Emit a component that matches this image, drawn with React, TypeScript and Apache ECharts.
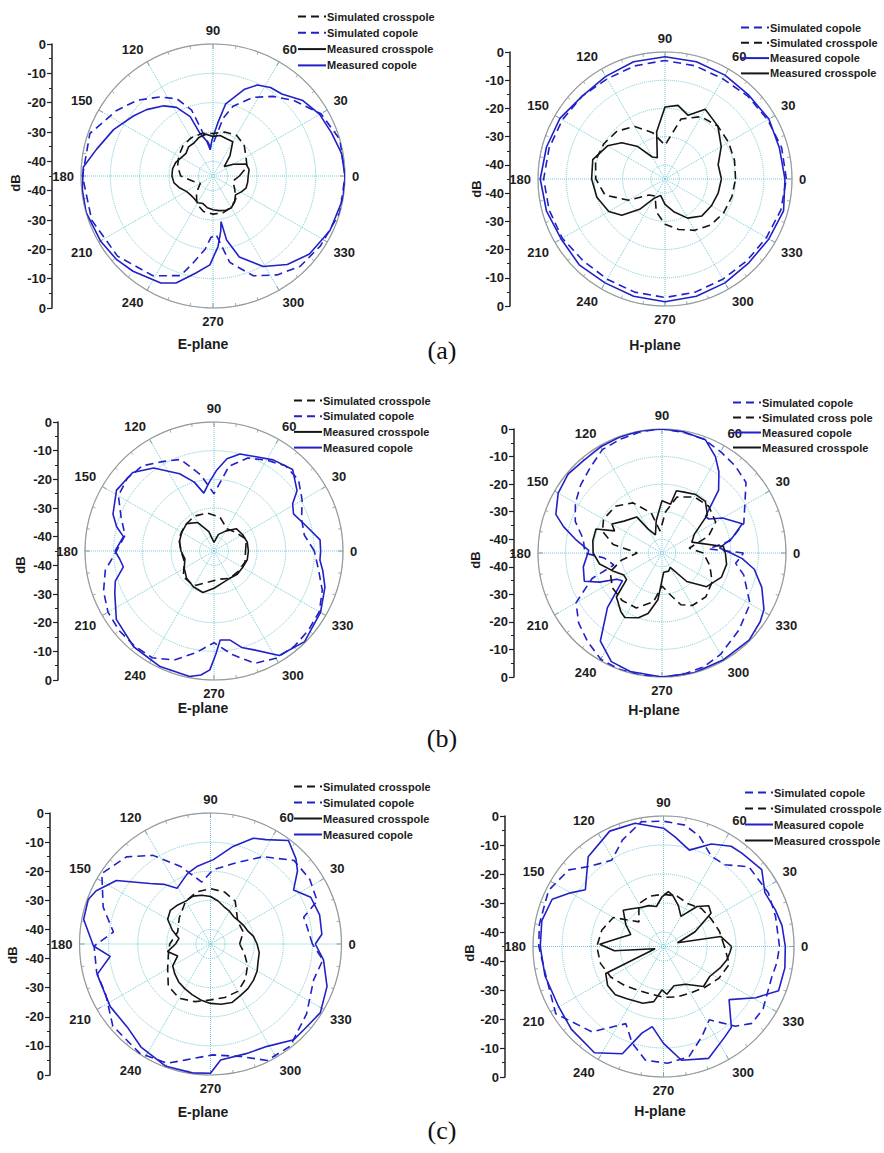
import React, { useEffect, useRef } from 'react';
import * as echarts from 'echarts';

// ---------- sample angle lists (degrees) ----------
const DEG10 = [0, 10, 20, 30, 40, 50, 60, 70, 80, 90, 100, 110, 120, 130, 140, 150, 160, 170, 180, 190, 200, 210, 220, 230, 240, 250, 260, 270, 280, 290, 300, 310, 320, 330, 340, 350];
const DEG15 = [0, 15, 30, 45, 60, 75, 90, 105, 120, 135, 150, 165, 180, 195, 210, 225, 240, 255, 270, 285, 300, 315, 330, 345];
const DEG20 = [0, 20, 40, 60, 80, 100, 120, 140, 160, 180, 200, 220, 240, 260, 280, 300, 320, 340];

// ---------- radial axis ----------
const R_MIN = -45;
const R_MAX = 0;
const ANGLE_TICKS = [0, 30, 60, 90, 120, 150, 180, 210, 240, 270, 300, 330];

// ---------- (a) E-plane ----------
const aE_simCross = [-36, -33, -32, -30, -29, -29.5, -30.5, -30, -30, -30.5, -31.5, -32.5, -34, -38, -40, -37, -34, -32.5, -32, -32, -32.6, -34, -36.5, -38];
const aE_simCoAng = [0, 16, 30, 43, 53, 63, 74, 80, 88, 95, 103, 108, 115, 124, 135, 146, 161, 180, 200, 220, 239, 252, 257, 264, 268, 273, 281, 292, 303, 314, 327, 344];
const aE_simCo = [0, 0, -2.5, -7.3, -11, -14.9, -20.3, -25, -33, -35, -30, -21.4, -16, -12.5, -8.5, -5.2, -0.6, -0.5, -1, -2.5, -5.3, -9.3, -14.5, -20, -24, -25, -15, -8.3, -4.8, -2.2, -1.3, 0];
const aE_measCross = [-33, -32.5, -33, -37, -40, -36, -31.5, -31.5, -31, -31.5, -30.5, -31, -32, -32, -33, -32.5, -31.5, -31, -31, -31.5, -33, -34.5, -35, -35, -34.5, -35, -34, -33.5, -33, -32.5, -32.5, -33.5, -35, -34, -33, -33];
const aE_measCoAng = [0, 10, 20, 30, 40, 50, 57, 64, 70, 80, 85, 92, 96, 100, 107, 111, 118, 125, 135, 143, 155, 167, 176, 186, 196, 210, 221, 230, 244, 251, 260, 268, 274, 278, 280, 282, 288, 299, 310, 321, 335, 350];
const aE_measCo = [0, -0.5, -2, -3, -5, -8.5, -9, -10.5, -13.5, -20, -27, -33, -36, -33, -29.8, -23.3, -18.5, -15.8, -13, -11, -7.6, -4.3, -0.7, -0.2, 0, -0.7, -1.5, -2.6, -4.4, -6.4, -11.4, -14.7, -20.8, -26, -29.2, -22.7, -16, -9.7, -5.6, -2.7, -1, 0];

// ---------- (a) H-plane ----------
const aH_simCo = [-2, -2.2, -3, -3.5, -4, -3.5, -3, -3.5, -4, -3.5, -3, -2.5, -2, -2.5, -3, -4, -4, -3.5, -3, -3.5, -4, -4, -3.5, -2.5];
const aH_simCross = [-20, -19.5, -19, -18.5, -19.5, -23, -33, -28, -23.5, -21, -20, -19.5, -20.5, -23, -30, -37, -38, -33, -29, -26.5, -24, -22, -21, -20.5];
const aH_measCo = [-2.5, -3, -2.5, -3, -2.5, -2, -1.7, -2, -3, -3.5, -2, -1.5, -0.8, -1.5, -2.5, -2, -2.5, -2, -1.5, -2, -2.5, -3, -2.5, -1.5];
const aH_measCrossAng = [0, 15, 30, 45, 60, 70, 80, 90, 100, 110, 120, 130, 140, 150, 165, 180, 195, 210, 220, 230, 240, 255, 270, 285, 300, 315, 330, 345];
const aH_measCross = [-25, -25.5, -22, -18.5, -16.5, -21, -18.5, -19.5, -28, -37, -36, -30, -25, -21.5, -18.5, -19, -20, -22, -25, -31, -37, -39, -36, -33, -29, -26.5, -26, -25.5];

// ---------- (b) E-plane ----------
const bE_simCross = [-34, -33, -35, -36, -33, -31.5, -31, -31.5, -32, -33.5, -34, -31, -31, -34, -35, -34, -34, -33.5];
const bE_simCo = [-10, -13, -12.5, -9.5, -6.5, -6.2, -8.4, -10.5, -15, -25, -18, -11, -9, -6.2, -5.5, -6.5, -10.5, -13.5, -11, -6.5, -4, -2.3, -1.8, -1.8, -2, -4.5, -9, -13, -8.3, -3.3, -1.8, -1.5, -2, -2.6, -4.8, -8];
const bE_measCross = [-33, -33, -33.5, -34, -37, -39, -42, -38, -33.5, -31.5, -32, -32.5, -33.5, -34.5, -33, -31.5, -30.6, -30, -32, -33.5, -34, -33.5, -33.5, -33];
const bE_measCoAng = [0, 6, 15, 25, 31, 36, 46, 57, 66, 75, 82, 88, 94, 100, 106, 114, 126, 136, 148, 160, 166, 171, 180, 185, 190, 197, 203, 215, 230, 245, 259, 264, 268, 271, 274, 280, 286, 292, 302, 315, 330, 342, 350, 355];
const bE_measCo = [-7.8, -7.8, -11.6, -14.4, -13, -9.2, -5.5, -7.1, -9, -10, -12.5, -16.7, -21, -24.5, -20, -15.5, -9.2, -5.6, -4.9, -7.5, -10, -13, -10.5, -12, -12.9, -9, -7.4, -3.4, -1.4, -0.5, -0.4, -1.5, -3.5, -9, -13.9, -13.5, -10, -7.8, -2, -0.3, -2.1, -4.3, -6.5, -7.9];

// ---------- (b) H-plane ----------
const bH_simCoAng = [0, 5, 10, 20, 30, 40, 50, 60, 70, 80, 90, 100, 110, 120, 130, 140, 150, 160, 170, 180, 185, 194, 200, 210, 220, 230, 240, 250, 260, 270, 280, 290, 300, 315, 330, 345, 352];
const bH_simCo = [-15.4, -28, -20, -13.4, -10.3, -5.2, -3.7, -2.5, -1, -0.5, 0, -0.3, -1, -1.7, -4.5, -6.5, -8.7, -11.5, -16, -17, -24, -27, -18, -9, -5.5, -3, -0.5, 0, 0, 0, -0.3, -1, -2.5, -5.5, -8.1, -14.3, -18];
const bH_simCrossAng = [0, 10, 20, 30, 45, 60, 75, 85, 95, 105, 120, 135, 150, 160, 170, 180, 190, 200, 215, 230, 245, 260, 270, 280, 290, 300, 315, 330, 345];
const bH_simCross = [-30, -35, -27, -22.5, -21, -21.5, -24, -30, -37, -30, -24, -21, -20.5, -22, -27, -36, -30, -25, -23, -22.5, -23, -27, -33, -30, -25, -23, -22.5, -24, -27];
const bH_measCoAng = [0, 5, 12, 20, 30, 36, 40, 48, 55, 61, 69, 80, 90, 100, 110, 120, 130, 140, 150, 160, 165, 171, 178, 190, 200, 205, 210, 215, 225, 235, 245, 255, 270, 285, 300, 315, 325, 331, 341, 350, 356];
const bH_measCo = [-20, -24, -19, -14, -19.6, -24, -24.4, -14.3, -9, -5, -1, -0.3, 0, 0, -0.2, -0.5, -1, -0.5, -1.5, -4, -8, -13.2, -18.4, -16, -15, -20, -26, -27.5, -17, -6, -1.5, -0.5, 0, 0, -0.3, -0.3, -1.5, -2.7, -6.7, -11, -15.8];
const bH_measCrossAng = [0, 6, 20, 30, 40, 50, 60, 70, 77, 80, 90, 100, 110, 120, 125, 140, 150, 155, 160, 170, 180, 190, 200, 210, 217, 224, 235, 240, 250, 257, 265, 275, 290, 300, 311, 323, 338, 350];
const bH_measCross = [-22, -22.6, -33.5, -31.5, -23.5, -20.5, -20.5, -21.5, -21.8, -27, -26, -33, -38, -35, -29, -27, -24, -26, -19.5, -19.5, -20, -22, -26, -29, -28.9, -22, -19, -18, -20, -22.5, -28, -38, -38, -39, -31.3, -24.7, -21.7, -21.2];

// ---------- (c) E-plane ----------
const cE_simCrossAng = [0, 20, 40, 60, 75, 90, 105, 120, 140, 160, 180, 195, 210, 225, 240, 255, 270, 285, 300, 315, 330, 345];
const cE_simCross = [-35, -33, -32.8, -28, -26.5, -26, -26.5, -28, -31, -33, -31, -30, -28, -24.5, -23.5, -24.5, -25.8, -26, -26.2, -28, -30.3, -33];
const cE_simCoAng = [0, 10, 16, 22, 33, 45, 59, 74, 88, 98, 111, 123, 134, 147, 161, 173, 181, 194, 206, 220, 237, 250, 258, 271, 285, 296, 308, 324, 341, 352];
const cE_simCo = [-10, -11.3, -11.7, -5.5, -4.3, -4.4, -10, -16.2, -19.5, -23.5, -16.5, -8.7, -3.4, -0.5, -6, -11.4, -5, -4.7, -5, -1.2, -0.3, -1.4, -4.3, -6.9, -5, -0.5, -0.5, -4.2, -7.5, -6];
const cE_measCross = [-29, -30, -31.5, -32, -32.5, -32.7, -32, -31.4, -30, -28.7, -28, -27.5, -28, -27.5, -27, -28, -31, -34, -33, -30, -33, -30, -29, -28, -27.3, -26.5, -25.5, -24.6, -24, -23.6, -24.5, -25, -25.7, -26.5, -27.6, -28];
const cE_measCoAng = [0, 5, 15, 25, 33, 40, 45, 53, 62, 68, 77, 88, 100, 108, 121, 128, 135, 146, 155, 160, 169, 181, 187, 195, 212, 225, 236, 250, 262, 270, 275, 288, 299, 311, 319, 328, 340, 352];
const cE_measCo = [-9, -6.6, -6.2, -7, -11, -6, -3.5, -0.5, -4.4, -5.8, -10.6, -16, -18, -19.5, -22.7, -19, -15.6, -6, -1.7, -0.3, -0.6, -4.8, -10.3, -4.7, -4.4, -4.6, -2.3, -0.3, -0.3, -0.6, -5, -5.4, -4.8, -1.4, -1.4, -0.5, -2.4, -5.8];

// ---------- (c) H-plane ----------
const cH_simCoAng = [0, 15, 27, 43, 53, 62, 72, 80, 90, 100, 111, 121, 133, 141, 154, 170, 180, 193, 212, 230, 244, 252, 261, 272, 283, 293, 302, 312, 319, 328, 344, 352];
const cH_simCo = [-5, -5, -4.4, -4.7, -9.7, -9.8, -5, -2.5, -1.8, -1.3, -5.6, -10.3, -7.3, -3, -0.9, -1.5, -2, -3.2, -1.2, -6.6, -15.4, -10, -5.3, -4.7, -6, -11.2, -15.2, -8, -4.6, -4.5, -6.2, -5.5];
const cH_simCross = [-24, -25, -26, -26.5, -28, -27, -27, -27, -28, -33, -25, -23, -22, -22.5, -24, -26, -27.5, -28, -27.5, -27, -26.5, -25, -23, -21.5];
const cH_measCoAng = [0, 10, 18, 28, 38, 50, 56, 65, 75, 84, 90, 103, 115, 130, 144, 150, 157, 168, 180, 194, 210, 222, 237, 249, 256, 262, 270, 279, 292, 304, 310, 321, 331, 339, 350];
const cH_measCo = [-3, -3.5, -4.4, -5.4, -2, -3, -3.3, -6, -10.6, -7, -4.2, -1.4, -1.1, -4.6, -11.7, -8, -3.3, -2.1, -2.5, -2.9, -3.3, -2.3, -1.3, -5.4, -14.2, -17.1, -11.6, -5.3, -3.4, -7.3, -8.6, -15.9, -8.6, -2.5, -2.5];
const cH_measCrossAng = [0, 10, 15, 25, 35, 42, 50, 60, 70, 80, 85, 92, 100, 110, 120, 130, 138, 150, 160, 170, 178, 185, 195, 205, 215, 225, 235, 250, 260, 268, 274, 285, 300, 315, 327, 340, 348, 355];
const cH_measCross = [-21.5, -25, -40, -33, -25, -24, -27, -33, -30, -27, -26, -28, -31, -30, -29.5, -28, -26.3, -30, -33, -29, -23, -28, -42, -23, -21.5, -21.5, -23, -24.2, -25.7, -30, -28.5, -31, -30, -25.5, -26, -24, -22.7, -22];

// ---------- names ----------
const SIM_CROSS = 'Simulated crosspole';
const SIM_CO = 'Simulated copole';
const MEAS_CROSS = 'Measured crosspole';
const MEAS_CO = 'Measured copole';
const SIM_CROSS_B = 'Simulated cross pole';

// ---------- style ----------
const BLUE = '#2121c8';
const BLACK = '#151515';
const GRIDC = '#6fcad6';
const TEXT = '#1c1c1c';
const FONT = 'Liberation Sans, Arial, sans-serif';
const DASH = [8, 5];

type S = { name: string; ang: number[]; val: number[]; color: string; dashed: boolean };

const PANELS = [
  {
    cx: 213, cy: 176, R: 132, axisX: 52, legX: 297, legY: 11, legGap: 5.3,
    dbX: 15, dbY: 183, plane: 'E-plane', planeX: 203, planeY: 344,
    legend: [SIM_CROSS, SIM_CO, MEAS_CROSS, MEAS_CO],
    series: [
      { name: SIM_CO, ang: aE_simCoAng, val: aE_simCo, color: BLUE, dashed: true },
      { name: MEAS_CO, ang: aE_measCoAng, val: aE_measCo, color: BLUE, dashed: false },
      { name: SIM_CROSS, ang: DEG15, val: aE_simCross, color: BLACK, dashed: true },
      { name: MEAS_CROSS, ang: DEG10, val: aE_measCross, color: BLACK, dashed: false },
    ] as S[],
  },
  {
    cx: 665, cy: 179, R: 127, axisX: 510, legX: 740, legY: 22, legGap: 4.3,
    dbX: 476, dbY: 189, plane: 'H-plane', planeX: 655, planeY: 345,
    legend: [SIM_CO, SIM_CROSS, MEAS_CO, MEAS_CROSS],
    series: [
      { name: SIM_CO, ang: DEG15, val: aH_simCo, color: BLUE, dashed: true },
      { name: MEAS_CO, ang: DEG15, val: aH_measCo, color: BLUE, dashed: false },
      { name: SIM_CROSS, ang: DEG15, val: aH_simCross, color: BLACK, dashed: true },
      { name: MEAS_CROSS, ang: aH_measCrossAng, val: aH_measCross, color: BLACK, dashed: false },
    ] as S[],
  },
  {
    cx: 214, cy: 551, R: 129, axisX: 58, legX: 293, legY: 395, legGap: 4.7,
    dbX: 20, dbY: 565, plane: 'E-plane', planeX: 203, planeY: 708,
    legend: [SIM_CROSS, SIM_CO, MEAS_CROSS, MEAS_CO],
    series: [
      { name: SIM_CO, ang: DEG10, val: bE_simCo, color: BLUE, dashed: true },
      { name: MEAS_CO, ang: bE_measCoAng, val: bE_measCo, color: BLUE, dashed: false },
      { name: SIM_CROSS, ang: DEG20, val: bE_simCross, color: BLACK, dashed: true },
      { name: MEAS_CROSS, ang: DEG15, val: bE_measCross, color: BLACK, dashed: false },
    ] as S[],
  },
  {
    cx: 662, cy: 553, R: 124, axisX: 514, legX: 732, legY: 397, legGap: 4,
    dbX: 475, dbY: 560, plane: 'H-plane', planeX: 654, planeY: 710,
    legend: [SIM_CO, SIM_CROSS_B, MEAS_CO, MEAS_CROSS],
    series: [
      { name: SIM_CO, ang: bH_simCoAng, val: bH_simCo, color: BLUE, dashed: true },
      { name: MEAS_CO, ang: bH_measCoAng, val: bH_measCo, color: BLUE, dashed: false },
      { name: SIM_CROSS_B, ang: bH_simCrossAng, val: bH_simCross, color: BLACK, dashed: true },
      { name: MEAS_CROSS, ang: bH_measCrossAng, val: bH_measCross, color: BLACK, dashed: false },
    ] as S[],
  },
  {
    cx: 210.5, cy: 944, R: 131, axisX: 50, legX: 293, legY: 781, legGap: 5,
    dbX: 12, dbY: 955, plane: 'E-plane', planeX: 203, planeY: 1112,
    legend: [SIM_CROSS, SIM_CO, MEAS_CROSS, MEAS_CO],
    series: [
      { name: SIM_CO, ang: cE_simCoAng, val: cE_simCo, color: BLUE, dashed: true },
      { name: MEAS_CO, ang: cE_measCoAng, val: cE_measCo, color: BLUE, dashed: false },
      { name: SIM_CROSS, ang: cE_simCrossAng, val: cE_simCross, color: BLACK, dashed: true },
      { name: MEAS_CROSS, ang: DEG10, val: cE_measCross, color: BLACK, dashed: false },
    ] as S[],
  },
  {
    cx: 663.5, cy: 946.5, R: 130.5, axisX: 505, legX: 744, legY: 787, legGap: 5,
    dbX: 469, dbY: 953, plane: 'H-plane', planeX: 660, planeY: 1111,
    legend: [SIM_CO, SIM_CROSS, MEAS_CO, MEAS_CROSS],
    series: [
      { name: SIM_CO, ang: cH_simCoAng, val: cH_simCo, color: BLUE, dashed: true },
      { name: MEAS_CO, ang: cH_measCoAng, val: cH_measCo, color: BLUE, dashed: false },
      { name: SIM_CROSS, ang: DEG15, val: cH_simCross, color: BLACK, dashed: true },
      { name: MEAS_CROSS, ang: cH_measCrossAng, val: cH_measCross, color: BLACK, dashed: false },
    ] as S[],
  },
];

const CAPTIONS = [
  { text: '(a)', x: 442, y: 350 },
  { text: '(b)', x: 442, y: 738 },
  { text: '(c)', x: 442, y: 1130 },
];

function dbLabel(v: number): string {
  const d = v <= 45 ? -v : v - 90;
  return d === 0 ? '0' : String(d);
}

function buildOption() {
  const polar: any[] = [];
  const angleAxis: any[] = [];
  const radiusAxis: any[] = [];
  const grid: any[] = [];
  const xAxis: any[] = [];
  const yAxis: any[] = [];
  const legend: any[] = [];
  const series: any[] = [];
  const graphic: any[] = [];

  PANELS.forEach((p, i) => {
    polar.push({ center: [p.cx, p.cy], radius: p.R });
    angleAxis.push({
      polarIndex: i,
      type: 'value',
      min: 0,
      max: 360,
      interval: 30,
      startAngle: 0,
      clockwise: false,
      axisLine: { show: true, lineStyle: { color: '#9a9a9a', width: 1.2 } },
      axisTick: { show: true, inside: true, length: 5, lineStyle: { color: '#8a8a8a' } },
      minorTick: { show: true, splitNumber: 3, length: 3, lineStyle: { color: '#aaaaaa' } },
      axisLabel: {
        show: true,
        margin: 7,
        fontSize: 13,
        fontWeight: 'bold',
        fontFamily: FONT,
        color: TEXT,
        formatter: (v: number) => (ANGLE_TICKS.indexOf(v) >= 0 ? String(v) : ''),
      },
      splitLine: { show: true, lineStyle: { color: GRIDC, type: 'dotted', width: 1 } },
    });
    radiusAxis.push({
      polarIndex: i,
      type: 'value',
      min: R_MIN,
      max: R_MAX,
      interval: 5,
      axisLine: { show: false },
      axisTick: { show: false },
      axisLabel: { show: false },
      splitLine: { show: true, lineStyle: { color: ['rgba(0,0,0,0)', GRIDC], type: 'dotted', width: 1 } },
    });
    grid.push({ left: p.axisX, top: p.cy - p.R, width: 10, height: 2 * p.R });
    xAxis.push({ gridIndex: i, type: 'value', show: false, min: 0, max: 1 });
    yAxis.push({
      gridIndex: i,
      type: 'value',
      min: 0,
      max: 90,
      interval: 10,
      position: 'left',
      axisLine: { show: true, lineStyle: { color: '#222', width: 1.5 } },
      axisTick: { show: true, length: 5, lineStyle: { color: '#222', width: 1.2 } },
      minorTick: { show: true, splitNumber: 2, length: 3, lineStyle: { color: '#222', width: 1 } },
      axisLabel: { show: true, margin: 6, fontSize: 13, fontWeight: 'bold', fontFamily: FONT, color: TEXT, formatter: dbLabel },
      splitLine: { show: false },
    });
    legend.push({
      data: p.legend,
      orient: 'vertical',
      left: p.legX,
      top: p.legY,
      itemWidth: 28,
      itemHeight: 10,
      itemGap: p.legGap,
      padding: 0,
      selectedMode: false,
      itemStyle: { opacity: 0 },
      textStyle: { fontSize: 11, fontWeight: 'bold', fontFamily: FONT, color: TEXT, padding: [0, 0, 0, -4] },
    });
    p.series.forEach((s) => {
      const data = s.ang.map((a, k) => [s.val[k], a]);
      data.push([s.val[0], s.ang[0] + 360]);
      series.push({
        type: 'line',
        name: s.name,
        coordinateSystem: 'polar',
        polarIndex: i,
        data,
        symbol: 'none',
        showSymbol: false,
        silent: true,
        lineStyle: { color: s.color, width: 1.6, type: s.dashed ? DASH : 'solid' },
        itemStyle: { color: s.color },
      });
    });
    graphic.push({
      type: 'text',
      x: p.dbX,
      y: p.dbY,
      rotation: Math.PI / 2,
      style: { text: 'dB', fontSize: 13, fontWeight: 'bold', fontFamily: FONT, fill: TEXT, align: 'center', verticalAlign: 'middle' },
    });
    graphic.push({
      type: 'text',
      x: p.planeX,
      y: p.planeY,
      style: { text: p.plane, fontSize: 14, fontWeight: 'bold', fontFamily: FONT, fill: TEXT, align: 'center', verticalAlign: 'middle' },
    });
  });

  CAPTIONS.forEach((c) => {
    graphic.push({
      type: 'text',
      x: c.x,
      y: c.y,
      style: { text: c.text, fontSize: 26, fontFamily: 'Liberation Serif, Times New Roman, serif', fill: '#111', align: 'center', verticalAlign: 'middle' },
    });
  });

  return {
    animation: false,
    backgroundColor: '#ffffff',
    textStyle: { fontFamily: FONT },
    polar,
    angleAxis,
    radiusAxis,
    grid,
    xAxis,
    yAxis,
    legend,
    series,
    graphic,
  };
}

export default function App() {
  const ref = useRef<HTMLDivElement>(null);
  useEffect(() => {
    const chart = echarts.init(ref.current as HTMLDivElement, null, { renderer: 'svg' });
    chart.setOption(buildOption() as any);
    return () => chart.dispose();
  }, []);
  return (
    <div
      ref={ref}
      style={{ position: 'absolute', left: 0, top: 0, width: 884, height: 1153, background: '#fff' }}
    />
  );
}
